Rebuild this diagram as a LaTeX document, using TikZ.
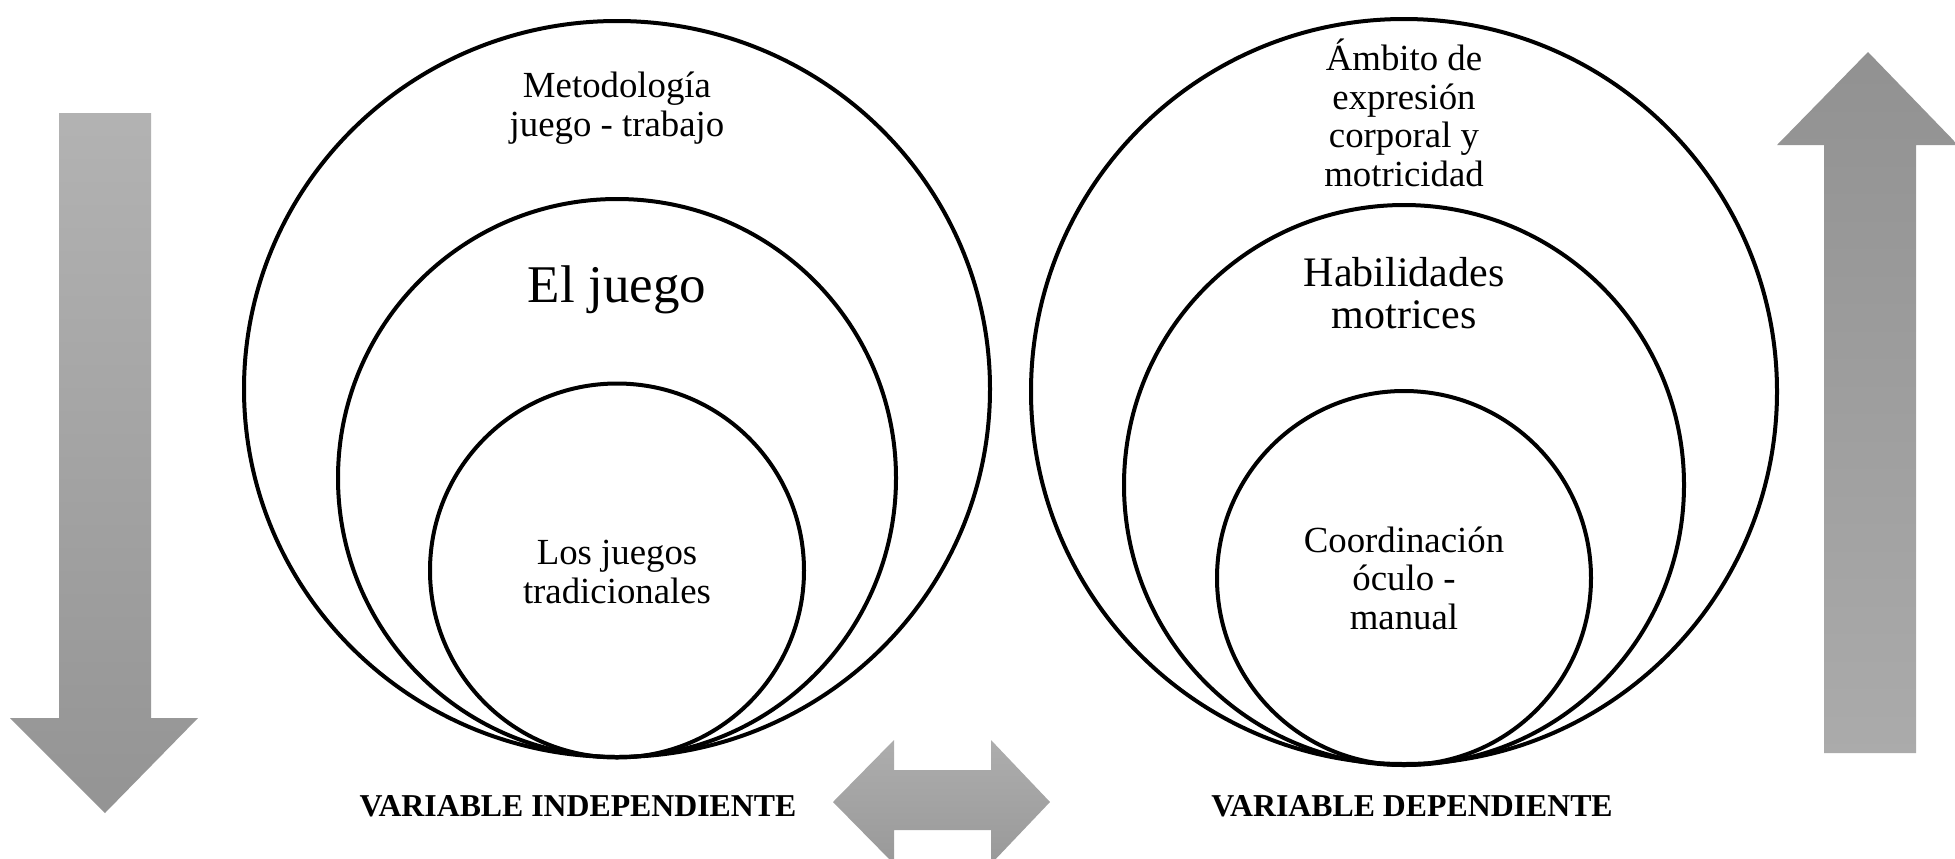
\documentclass[tikz,border=0pt]{standalone}
\usepackage{fontspec}
\setmainfont{Liberation Serif}
\usetikzlibrary{shapes.geometric}
\begin{document}
\begin{tikzpicture}[x=0.5pt,y=-0.5pt,
  ring/.style={draw=black,line width=2pt,inner sep=0pt,outer sep=0pt},
  txt/.style={align=center,inner sep=0pt,font=\fontsize{18.4}{19.3}\selectfont},
  bigtxt/.style={align=center,inner sep=0pt,font=\fontsize{21}{21}\selectfont},
  huge/.style={align=center,inner sep=0pt,font=\fontsize{26.5}{28}\selectfont},
  lbl/.style={inner sep=0pt,font=\fontsize{15.9}{17}\selectfont\bfseries}]
\useasboundingbox (0,0) rectangle (1955,858);
\clip (0,0) rectangle (1955,858);
% left group
\node[ring,ellipse,minimum width=373pt,minimum height=368pt] (lo) at (617,389) {};
\node[ring,circle,minimum size=279pt] (lm) at (617,478) {};
\node[ring,circle,minimum size=187pt] (li) at (617,570.5) {};
\node[txt] (t1) at (617,108) {Metodología\\juego - trabajo};
\node[huge] (t2) at (617,290) {El juego};
\node[txt] (t3) at (617,572) {Los juegos\\tradicionales};
% right group
\node[ring,ellipse,minimum width=373pt,minimum height=372.5pt] (ro) at (1404,391.5) {};
\node[ring,circle,minimum size=280pt] (rm) at (1404,485) {};
\node[ring,circle,minimum size=187pt] (ri) at (1404,578) {};
\node[txt] (s1) at (1404,113) {Ámbito de\\expresión\\corporal y\\motricidad};
\node[bigtxt] (s2) at (1404,293) {Habilidades\\motrices};
\node[txt] (s3) at (1404,578) {Coordinación\\óculo -\\manual};
% labels
\node[lbl] (vi) at (578,806) {VARIABLE INDEPENDIENTE};
\node[lbl] (vd) at (1412,806) {VARIABLE DEPENDIENTE};
% arrows
\shade[top color=black!30,bottom color=black!42]
  (59,113) -- (151,113) -- (151,718) -- (198,718) -- (105,813) -- (10,718) -- (59,718) -- cycle;
\shade[top color=black!43,bottom color=black!33]
  (1824,753) -- (1824,145) -- (1777,145) -- (1868,52) -- (1958,145) -- (1916,145) -- (1916,753) -- cycle;
\shade[top color=black!32,bottom color=black!40]
  (833,802) -- (894,740) -- (894,770) -- (991,770) -- (991,740) -- (1050,802) -- (991,864) -- (991,830) -- (894,830) -- (894,864) -- cycle;
\end{tikzpicture}
\end{document}
